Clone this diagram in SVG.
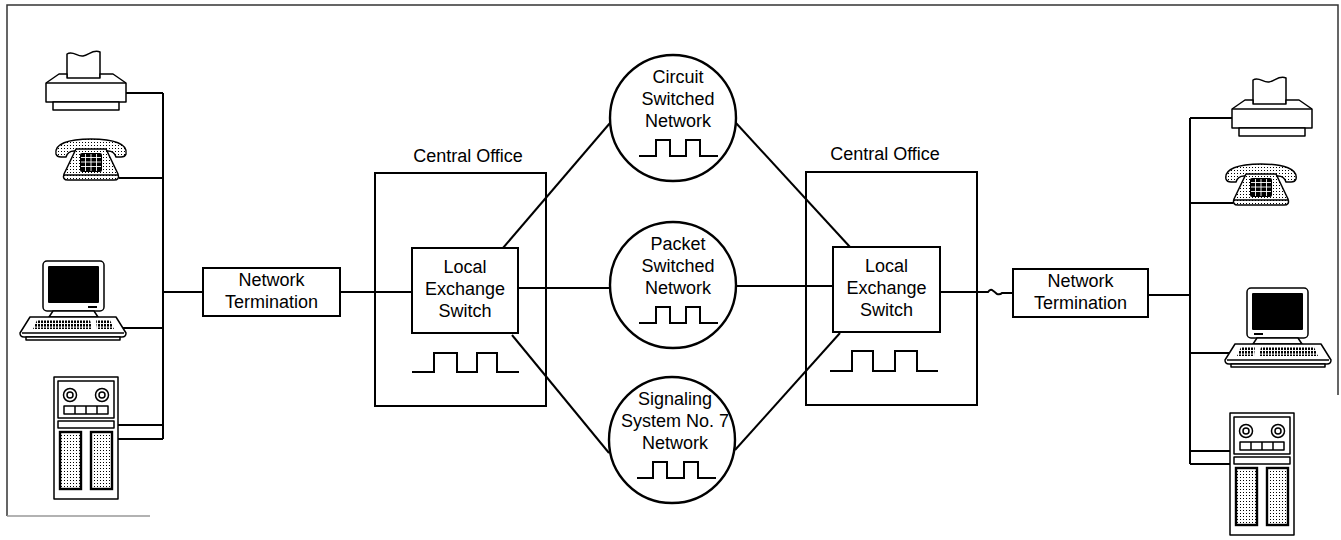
<svg xmlns="http://www.w3.org/2000/svg" xmlns:xlink="http://www.w3.org/1999/xlink" width="1341" height="540" viewBox="0 0 1341 540">
  <style>
    .lbl { font-family: "Liberation Sans", Arial, sans-serif; font-size: 18px; text-anchor: middle; fill: #000; }
    .box { fill: #fff; stroke: #000; stroke-width: 2; }
    .frame { fill: none; stroke: #000; stroke-width: 2; }
    .net { fill: #fff; stroke: #000; stroke-width: 2.4; }
    .pulse { fill: none; stroke: #000; stroke-width: 2; }
    .dev { stroke: #000; stroke-width: 1.5; stroke-linejoin: round; }
  </style>
  <defs>
    <pattern id="dots" width="3" height="3" patternUnits="userSpaceOnUse">
      <rect width="3" height="3" fill="#fff"/>
      <rect x="1" y="1" width="1" height="1" fill="#000"/>
    </pattern>
    <pattern id="keys" width="3" height="3.5" patternUnits="userSpaceOnUse">
      <rect width="3" height="3.5" fill="#fff"/>
      <rect width="2" height="2.6" fill="#000"/>
    </pattern>

    <!-- printer: origin at top-left of the body -->
    <symbol id="printer" overflow="visible">
      <path class="dev" fill="#fff" d="M21,6 V-20 C27,-24 31,-17 37,-18 C43,-19 47,-25 54,-22 V6"/>
      <path class="dev" fill="#fff" d="M0,9 L13,0 H21 V4 H54 V0 H67 L80,9 V28 H0 Z"/>
      <path class="dev" fill="none" d="M0,9 H80"/>
      <rect class="dev" fill="#fff" x="7" y="28" width="66" height="8"/>
    </symbol>

    <!-- telephone: 74 x 42 -->
    <symbol id="phone" overflow="visible">
      <path class="dev" fill="url(#dots)" d="M2,16 C0,6 14,1 37,1 C60,1 74,6 72,16 Q71,19 67,19 L62,19 Q60,13 54,13 H20 Q14,13 12,19 L7,19 Q3,19 2,16 Z"/>
      <path class="dev" fill="url(#dots)" d="M22,11 H52 L64,36 Q66,42 60,42 H14 Q8,42 10,36 Z"/>
      <path class="dev" fill="none" d="M10,37 H64"/>
      <rect x="26" y="15" width="22" height="19" rx="2" fill="#000"/>
      <path d="M31.5,16 V33 M37,16 V33 M42.5,16 V33 M27,19.5 H47 M27,24 H47 M27,28.5 H47" stroke="#fff" stroke-width="0.9"/>
    </symbol>

    <!-- computer: origin at keyboard left / monitor top -->
    <symbol id="computer" overflow="visible">
      <rect class="dev" fill="#fff" x="23" y="0" width="61" height="50" rx="4"/>
      <rect x="28" y="5" width="51" height="37" rx="1" fill="#000"/>
      <rect x="68" y="45" width="9" height="2" fill="#000"/>
      <path class="dev" fill="#fff" d="M33,50 H74 L78,56 H29 Z"/>
      <path class="dev" fill="#fff" d="M10,56 H96 L106,72 Q106,76 102,76 H4 Q0,76 0,72 Z"/>
      <path d="M17,59 H70 L72,68 H13 Z" fill="url(#keys)"/>
      <path d="M76,59 H90 L94,68 H77 Z" fill="url(#keys)"/>
      <path class="dev" fill="none" d="M2,72 H104"/>
      <rect class="dev" fill="#fff" x="6" y="76" width="94" height="3"/>
    </symbol>

    <!-- tape storage unit: 64 x 122 -->
    <symbol id="tape" overflow="visible">
      <rect class="dev" fill="#fff" x="0" y="0" width="64" height="122"/>
      <rect class="dev" fill="#fff" x="4" y="4" width="56" height="37"/>
      <circle class="dev" fill="#fff" cx="16" cy="18" r="6.5"/>
      <circle class="dev" fill="#fff" cx="16" cy="18" r="3"/>
      <circle class="dev" fill="#fff" cx="48" cy="18" r="6.5"/>
      <circle class="dev" fill="#fff" cx="48" cy="18" r="3"/>
      <rect class="dev" fill="#fff" x="10" y="29" width="44" height="8"/>
      <path class="dev" d="M21,29 V37 M32,29 V37 M43,29 V37"/>
      <rect class="dev" fill="#fff" x="4" y="44" width="56" height="7"/>
      <rect fill="url(#dots)" stroke="#000" stroke-width="2.4" x="6" y="55" width="21" height="57"/>
      <rect fill="url(#dots)" stroke="#000" stroke-width="2.4" x="37" y="55" width="21" height="57"/>
    </symbol>
  </defs>

  <rect width="1341" height="540" fill="#fff"/>
  <!-- page frame: top, left and right edges, faint bottom fragment -->
  <path d="M7,516 V5 H1338 V395" fill="none" stroke="#333" stroke-width="1.5"/>
  <path d="M7,516 H150" fill="none" stroke="#999" stroke-width="1.5"/>

  <!-- connectors -->
  <g id="connectors" fill="none" stroke="#000" stroke-width="2">
    <path d="M163,93 V439"/>
    <path d="M126,93 H163"/>
    <path d="M119,178 H163"/>
    <path d="M163,292 H203"/>
    <path d="M123,328 H163"/>
    <path d="M118,425 H163 M118,439 H163"/>
    <path d="M340,292 H412"/>
    <path d="M503,248 L610,123"/>
    <path d="M518,288 H610"/>
    <path d="M512,335 L609,453"/>
    <path d="M736,123 L850,247"/>
    <path d="M736,286 H833"/>
    <path d="M735,450 L840,333"/>
    <path d="M940,292 H988 q2,-3 4,-2 q3,2 5,4 q3,1 5,-1 H1013"/>
    <path d="M1148,295 H1190"/>
    <path d="M1190,118 V464"/>
    <path d="M1190,118 H1232"/>
    <path d="M1190,203 H1233"/>
    <path d="M1190,353 H1229"/>
    <path d="M1190,451 H1230 M1190,464 H1230"/>
  </g>

  <!-- left terminal equipment -->
  <g id="printer-left"><use xlink:href="#printer" href="#printer" x="46" y="74"/></g>
  <g id="phone-left"><use xlink:href="#phone" href="#phone" x="54" y="138"/></g>
  <g id="computer-left"><use xlink:href="#computer" href="#computer" x="20" y="261"/></g>
  <g id="tape-left"><use xlink:href="#tape" href="#tape" x="54" y="377"/></g>

  <!-- right terminal equipment -->
  <g id="printer-right"><use xlink:href="#printer" href="#printer" x="1232" y="100"/></g>
  <g id="phone-right"><use xlink:href="#phone" href="#phone" x="1224" y="163"/></g>
  <g id="computer-right"><use xlink:href="#computer" href="#computer" transform="translate(1331,288) scale(-1,1)"/></g>
  <g id="tape-right"><use xlink:href="#tape" href="#tape" x="1230" y="413"/></g>

  <!-- network terminations -->
  <g id="nt-left">
    <rect class="box" x="203" y="268" width="137" height="48"/>
    <text class="lbl" x="271.5" y="286">Network</text>
    <text class="lbl" x="271.5" y="308">Termination</text>
  </g>
  <g id="nt-right">
    <rect class="box" x="1013" y="269" width="135" height="48"/>
    <text class="lbl" x="1080.5" y="287">Network</text>
    <text class="lbl" x="1080.5" y="309">Termination</text>
  </g>

  <!-- central offices -->
  <g id="co-left">
    <text class="lbl" x="468" y="162">Central Office</text>
    <rect class="frame" x="375" y="173" width="171" height="233"/>
    <g id="les-left">
      <rect class="box" x="412" y="248" width="106" height="85"/>
      <text class="lbl" x="465" y="273">Local</text>
      <text class="lbl" x="465" y="295">Exchange</text>
      <text class="lbl" x="465" y="317">Switch</text>
    </g>
    <path class="pulse" d="M412,372 H434 V353 H457 V372 H477 V353 H497 V372 H519"/>
  </g>
  <g id="co-right">
    <text class="lbl" x="885" y="160">Central Office</text>
    <rect class="frame" x="806" y="172" width="171" height="233"/>
    <g id="les-right">
      <rect class="box" x="833" y="247" width="107" height="85"/>
      <text class="lbl" x="886.5" y="272">Local</text>
      <text class="lbl" x="886.5" y="294">Exchange</text>
      <text class="lbl" x="886.5" y="316">Switch</text>
    </g>
    <path class="pulse" d="M830,371 H852 V351 H873 V371 H895 V351 H917 V371 H938"/>
  </g>

  <!-- networks -->
  <g id="circuit-net">
    <circle class="net" cx="673" cy="118" r="63"/>
    <text class="lbl" x="678" y="83">Circuit</text>
    <text class="lbl" x="678" y="105">Switched</text>
    <text class="lbl" x="678" y="127">Network</text>
    <path class="pulse" d="M639,156 H656 V140 H670 V156 H686 V140 H700 V156 H718"/>
  </g>
  <g id="packet-net">
    <circle class="net" cx="673" cy="285" r="63"/>
    <text class="lbl" x="678" y="250">Packet</text>
    <text class="lbl" x="678" y="272">Switched</text>
    <text class="lbl" x="678" y="294">Network</text>
    <path class="pulse" d="M639,323 H656 V307 H670 V323 H686 V307 H700 V323 H718"/>
  </g>
  <g id="ss7-net">
    <circle class="net" cx="672" cy="440" r="63"/>
    <text class="lbl" x="675" y="405">Signaling</text>
    <text class="lbl" x="675" y="427">System No. 7</text>
    <text class="lbl" x="675" y="449">Network</text>
    <path class="pulse" d="M637,478 H653 V462 H667 V478 H684 V462 H698 V478 H716"/>
  </g>
</svg>
